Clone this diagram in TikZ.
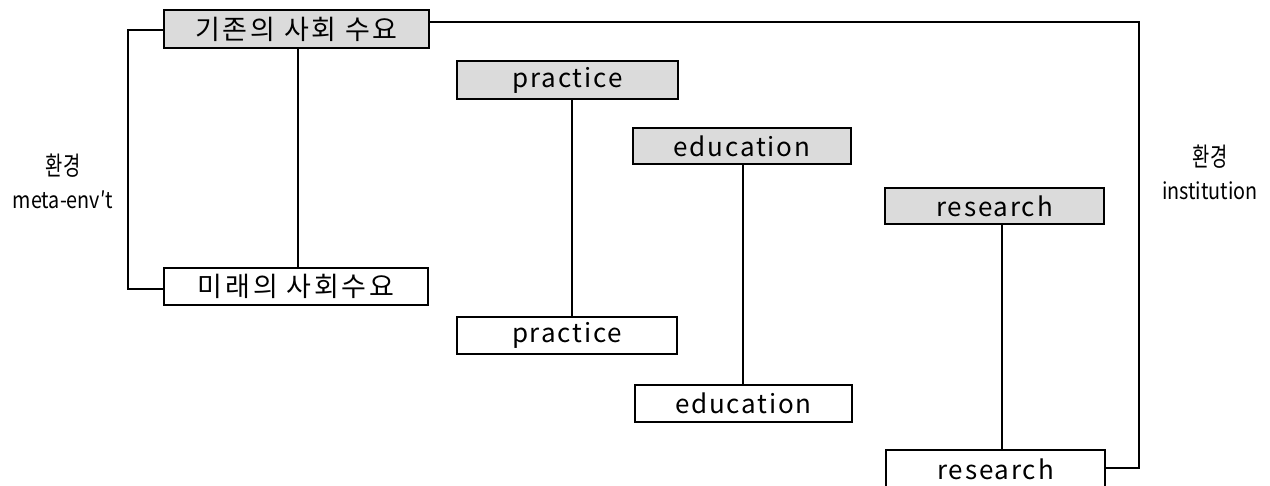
\documentclass[tikz,border=0pt]{standalone}
\usepackage{fontspec}
\newfontfamily\krbox[LetterSpace=7]{Noto Sans CJK KR}
\newfontfamily\krhan[LetterSpace=10]{Noto Sans CJK KR}
\newfontfamily\krlab{Noto Sans CJK KR}
\tikzset{
  box/.style={draw=black, line width=1.1pt, inner sep=0pt, font=\krbox\fontsize{26}{28}\selectfont, text=black},
  hbox/.style={font=\krhan\fontsize{27}{29}\selectfont},
  top/.style={box, fill=black!14},
  bot/.style={box, fill=white},
  link/.style={draw=black, line width=1.1pt},
  lab/.style={align=center, font=\krlab\fontsize{23}{33}\selectfont, inner sep=0pt},
  hlab/.style={font=\krlab\fontsize{26}{26}\selectfont}
}
\begin{document}
\begin{tikzpicture}[x=1pt,y=-1pt]
\useasboundingbox (0,0) rectangle (1270,486);
\node[top, hbox, minimum width=265pt, minimum height=38pt] (b1) at (296.5,29) {기존의 사회 수요};
\node[bot, hbox, minimum width=264pt, minimum height=37pt] (b2) at (296,286.5) {미래의 사회수요};
\node[top, minimum width=221pt, minimum height=38pt] (p1) at (567.5,80) {practice};
\node[bot, minimum width=220pt, minimum height=37pt] (p2) at (567,335.5) {practice};
\node[top, minimum width=218pt, minimum height=36pt] (e1) at (742,146) {education};
\node[bot, minimum width=217pt, minimum height=37pt] (e2) at (743.5,403.5) {education};
\node[top, minimum width=219pt, minimum height=36pt] (r1) at (994.5,206) {research};
\node[bot, minimum width=219pt, minimum height=38pt] (r2) at (995.5,469) {research};
\node[lab] (l1) at (63,181) {\scalebox{0.72}[1]{\fontsize{26}{26}\selectfont 환경}\\\scalebox{0.86}[1]{meta-env′t}};
\node[lab] (l2) at (1210,172) {\scalebox{0.72}[1]{\fontsize{26}{26}\selectfont 환경}\\\scalebox{0.86}[1]{institution}};
\coordinate (lc) at (128,30);
\coordinate (rc) at (1139,22);
\draw[link] ([xshift=1.5pt]b1.south) -- ([xshift=2pt]b2.north);
\draw[link] ([xshift=4.5pt]p1.south) -- ([xshift=5pt]p2.north);
\draw[link] ([xshift=1pt]e1.south) -- ([xshift=-0.5pt]e2.north);
\draw[link] ([xshift=7.5pt]r1.south) -- ([xshift=6.5pt]r2.north);
\draw[link] ([yshift=-1pt]b1.west) -- (lc) |- ([yshift=-2.5pt]b2.west);
\draw[link] ([yshift=7pt]b1.east) -- (rc) |- ([yshift=1pt]r2.east);
\end{tikzpicture}
\end{document}
